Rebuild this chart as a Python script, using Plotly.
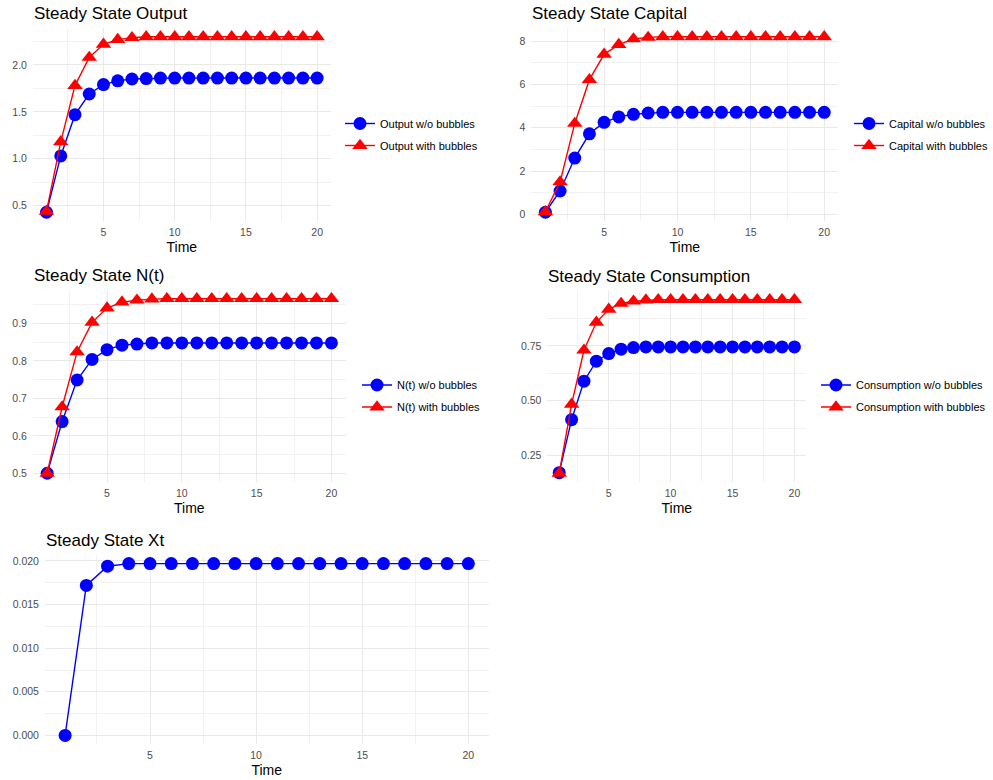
import plotly.graph_objects as go

# ---- data -------------------------------------------------------------
time = list(range(1, 21))

output_no_bubble = [0.43, 1.03, 1.47, 1.69, 1.79, 1.83, 1.85, 1.855] + [1.86] * 12
output_bubble = [0.44, 1.18, 1.78, 2.08, 2.22, 2.27, 2.29, 2.30] + [2.30] * 12

capital_no_bubble = [0.10, 1.08, 2.60, 3.72, 4.25, 4.50, 4.62, 4.68] + [4.71] * 12
capital_bubble = [0.12, 1.50, 4.20, 6.22, 7.39, 7.84, 8.10, 8.17] + [8.20] * 12

n_no_bubble = [0.50, 0.638, 0.749, 0.804, 0.830, 0.842, 0.845, 0.848] + [0.848] * 12
n_bubble = [0.50, 0.677, 0.824, 0.903, 0.941, 0.957, 0.962, 0.965] + [0.966] * 12

cons_no_bubble = [0.173, 0.414, 0.589, 0.68, 0.715, 0.735, 0.742, 0.745] + [0.745] * 12
cons_bubble = [0.17, 0.484, 0.73, 0.857, 0.916, 0.943, 0.953, 0.958] + [0.96] * 12

xt = [0.0, 0.0172, 0.0194, 0.0197] + [0.0197] * 16

# ---- page geometry (pixels) ---------------------------------------------
W, H = 993, 780
BLUE, RED = "#0000ff", "#ff0000"
FONT = "Liberation Sans, Arial, Helvetica, sans-serif"


def fx(px):
    return px / W


def fy(py):
    return 1 - py / H


def padded(*series):
    lo = min(min(s) for s in series)
    hi = max(max(s) for s in series)
    pad = 0.05 * (hi - lo)
    return [lo - pad, hi + pad]


panels = [
    dict(title="Steady State Output", series=[output_no_bubble, output_bubble],
         names=["Output w/o bubbles", "Output with bubbles"],
         xpx=(33, 331), ypx=(28, 221), dtick=0.5, fmt=".1f", leg=(340, 134.5)),
    dict(title="Steady State Capital", series=[capital_no_bubble, capital_bubble],
         names=["Capital w/o bubbles", "Capital with bubbles"],
         xpx=(532, 839), ypx=(28, 221), dtick=2, fmt="d", leg=(850, 134.5)),
    dict(title="Steady State N(t)", series=[n_no_bubble, n_bubble],
         names=["N(t) w/o bubbles", "N(t) with bubbles"],
         xpx=(33, 346), ypx=(290, 482), dtick=0.1, fmt=".1f", leg=(357, 396)),
    dict(title="Steady State Consumption", series=[cons_no_bubble, cons_bubble],
         names=["Consumption w/o bubbles", "Consumption with bubbles"],
         xpx=(548, 807), ypx=(291, 482), dtick=0.25, fmt=".2f", leg=(816, 396)),
    dict(title="Steady State Xt", series=[xt], names=["Xt"],
         xpx=(45, 489), ypx=(555, 744), dtick=0.005, fmt=".3f", leg=None),
]

fig = go.Figure()
layout = {}
annotations = []

for i, p in enumerate(panels, start=1):
    sfx = "" if i == 1 else str(i)
    xa, ya = "x" + sfx, "y" + sfx
    legend_id = "legend" + sfx
    styles = [
        dict(color=BLUE, symbol="circle", size=13),
        dict(color=RED, symbol="triangle-up", size=13.5),
    ]
    for j, (vals, name) in enumerate(zip(p["series"], p["names"])):
        st = styles[j]
        fig.add_trace(go.Scatter(
            x=time, y=vals, name=name, mode="lines+markers",
            xaxis=xa, yaxis=ya,
            line=dict(color=st["color"], width=1.4),
            marker=dict(color=st["color"], symbol=st["symbol"], size=st["size"],
                        line=dict(width=0)),
            showlegend=p["leg"] is not None,
            legend=legend_id,
            legendgroup=f"{i}-{j}",
        ))

    grid = dict(showgrid=True, gridcolor="#e9e9e9", gridwidth=1, zeroline=False,
                showline=False, ticks="",
                tickfont=dict(family=FONT, size=10.5, color="#4d4d4d"))
    layout["xaxis" + sfx] = dict(
        grid, domain=[fx(p["xpx"][0]), fx(p["xpx"][1])], anchor=ya,
        range=[0.05, 20.95], tick0=0, dtick=5, ticklabelstandoff=3,
        minor=dict(dtick=2.5, showgrid=True, gridcolor="#f2f2f2", gridwidth=0.7),
        title=dict(text="Time", font=dict(family=FONT, size=14, color="black"),
                   standoff=5),
    )
    layout["yaxis" + sfx] = dict(
        grid, domain=[fy(p["ypx"][1]), fy(p["ypx"][0])], anchor=xa,
        range=padded(*p["series"]), tick0=0, dtick=p["dtick"], tickformat=p["fmt"],
        ticklabelstandoff=5,
        minor=dict(dtick=p["dtick"] / 2, showgrid=True, gridcolor="#f2f2f2",
                   gridwidth=0.7),
    )
    annotations.append(dict(
        text=p["title"], xref="paper", yref="paper",
        x=fx(p["xpx"][0] - 1), y=fy(p["ypx"][0] - 15), xanchor="left",
        yanchor="middle", showarrow=False,
        font=dict(family=FONT, size=17, color="black"),
    ))
    if p["leg"] is not None:
        layout[legend_id] = dict(
            visible=True,
            x=fx(p["leg"][0]), y=fy(p["leg"][1]), xanchor="left", yanchor="middle",
            xref="paper", yref="paper", bgcolor="rgba(0,0,0,0)",
            font=dict(family=FONT, size=11, color="black"),
            tracegroupgap=3,
        )

fig.update_layout(
    **layout,
    showlegend=True,
    annotations=annotations,
    width=W, height=H,
    margin=dict(l=0, r=0, t=0, b=0),
    paper_bgcolor="white", plot_bgcolor="white",
)

fig.write_html("out.html")
